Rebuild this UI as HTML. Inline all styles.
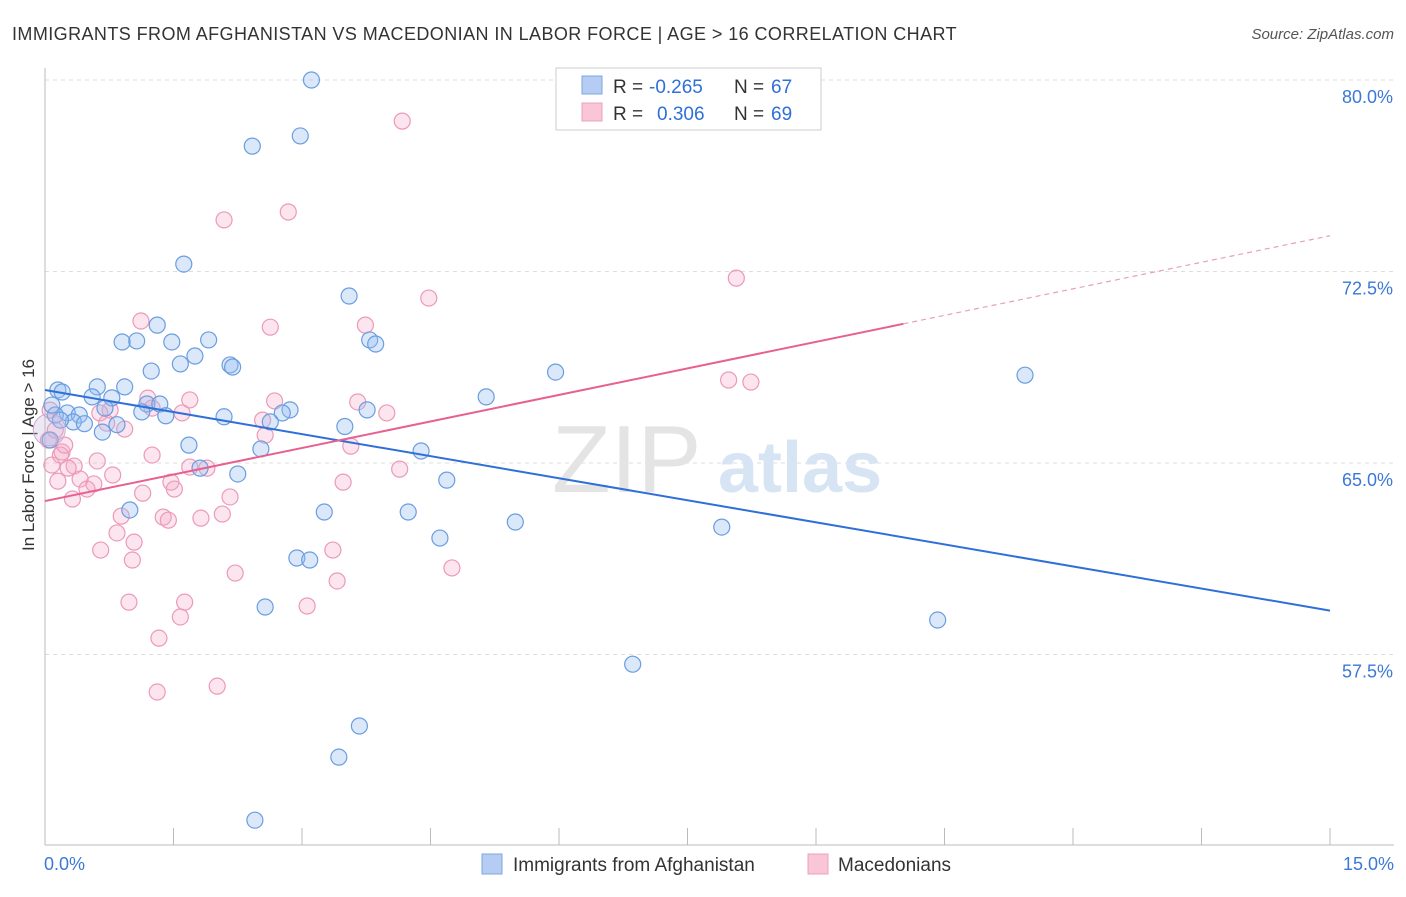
<!DOCTYPE html>
<html><head><meta charset="utf-8"><style>
body{margin:0;background:#fff;font-family:"Liberation Sans",sans-serif;}
svg text{font-family:"Liberation Sans",sans-serif;}
</style></head><body>
<svg id="chart" width="1406" height="892" viewBox="0 0 1406 892" xmlns="http://www.w3.org/2000/svg">
<text x="12" y="40" font-size="18" letter-spacing="0.42" fill="#333">IMMIGRANTS FROM AFGHANISTAN VS MACEDONIAN IN LABOR FORCE | AGE &gt; 16 CORRELATION CHART</text>
<text x="1394" y="39" font-size="15" fill="#555" text-anchor="end" font-style="italic">Source: ZipAtlas.com</text>
<g id="grid"></g>
<g>
<text x="552" y="492" font-size="96" fill="#e4e4e4" font-family="Liberation Serif,serif">ZIP</text>
<text x="718" y="492" font-size="72" fill="#d6e4f4" font-weight="bold">atlas</text>
</g>
<text transform="translate(34,455) rotate(-90)" font-size="17" fill="#333" text-anchor="middle">In Labor Force | Age &gt; 16</text>
<g id="points"></g>
<g id="lines"></g>
<g>
<rect x="556" y="68" width="265" height="62" fill="#fff" stroke="#ccc"/>
<rect x="582" y="76" width="20" height="18" fill="#b5cdf2" stroke="#7aa7e4"/>
<rect x="582" y="103" width="20" height="18" fill="#f9c6d6" stroke="#eba0bb"/>
<text x="613" y="93" font-size="19" fill="#333">R =</text>
<text x="649" y="93" font-size="19" fill="#2f6fd8">-0.265</text>
<text x="734" y="93" font-size="19" fill="#333">N =</text>
<text x="771" y="93" font-size="19" fill="#2f6fd8">67</text>
<text x="613" y="120" font-size="19" fill="#333">R =</text>
<text x="657" y="120" font-size="19" fill="#2f6fd8">0.306</text>
<text x="734" y="120" font-size="19" fill="#333">N =</text>
<text x="771" y="120" font-size="19" fill="#2f6fd8">69</text>
</g>
<g>
<rect x="482" y="854" width="20" height="20" fill="#b5cdf2" stroke="#7aa7e4"/>
<text x="513" y="871" font-size="19" fill="#333">Immigrants from Afghanistan</text>
<rect x="808" y="854" width="20" height="20" fill="#f9c6d6" stroke="#eba0bb"/>
<text x="838" y="871" font-size="19" fill="#333">Macedonians</text>
</g>
</svg>
<script>
const yTicks=[80,72.5,65,57.5];
const yTickLabels=["80.0%","72.5%","65.0%","57.5%"];
const xTickValues=[0,1.5,3,4.5,6,7.5,9,10.5,12,13.5,15];
const xEndLabels=["0.0%","15.0%"];
const blueX=[3.11,2.42,2.98,1.62,3.55,1.31,1.07,0.90,1.48,1.91,3.79,3.86,1.75,1.58,2.16,2.19,1.24,5.96,11.44,0.93,0.61,0.15,0.20,0.55,0.78,5.15,1.19,1.34,2.86,2.77,3.76,0.26,1.13,0.40,0.70,1.41,2.09,2.63,0.33,0.46,0.84,3.50,0.67,1.68,2.52,4.39,1.81,2.25,4.69,0.99,3.26,4.24,5.49,7.90,4.61,2.94,3.09,2.57,10.42,6.86,3.67,3.43,2.45,0.12,0.06,0.08,0.18];
const blueY=[80.0,77.41,77.81,72.79,71.54,70.40,69.78,69.74,69.74,69.82,69.82,69.66,69.19,68.88,68.84,68.76,68.60,68.56,68.44,67.98,67.98,67.86,67.78,67.59,67.55,67.59,67.31,67.31,67.08,66.96,67.08,66.96,67.00,66.88,67.15,66.85,66.81,66.61,66.61,66.54,66.50,66.43,66.21,65.70,65.55,65.47,64.80,64.57,64.33,63.16,63.08,63.08,62.69,62.49,62.06,61.28,61.20,59.36,58.85,57.12,54.70,53.48,51.01,66.88,65.90,67.27,66.68];
const pinkX=[4.17,2.84,2.09,8.07,4.48,1.12,2.63,3.74,7.98,8.24,1.69,1.20,1.25,1.60,2.68,3.65,0.76,0.64,3.99,2.54,0.72,0.93,2.57,3.57,0.20,0.61,1.25,0.34,0.27,1.69,1.89,4.14,0.79,0.41,0.15,0.57,0.49,1.47,1.51,3.48,1.14,2.16,0.32,0.89,2.07,1.38,1.44,1.82,0.84,1.04,0.65,1.02,3.36,4.75,2.22,3.41,0.98,1.63,3.06,1.58,1.33,1.31,2.01,0.06,0.04,0.08,0.12,0.18,0.23];
const pinkY=[78.39,74.83,74.52,72.24,71.46,70.56,70.32,70.40,68.25,68.17,67.47,67.54,67.15,66.96,67.43,67.39,67.07,66.96,66.96,66.68,66.56,66.33,66.09,65.66,65.43,65.08,65.31,64.88,64.80,64.84,64.80,64.76,64.53,64.37,64.29,64.18,63.98,64.25,63.98,64.25,63.82,63.67,63.59,62.92,63.00,62.88,62.76,62.84,62.26,61.90,61.59,61.20,61.59,60.89,60.69,60.38,59.55,59.55,59.40,58.97,58.14,56.03,56.26,67.07,65.90,64.92,66.29,65.31,65.70];
const blueTrend=[67.86,59.22];
const pinkTrend=[63.51,73.9];
const pinkSolidEnd=10.02;
const NS="http://www.w3.org/2000/svg";
const X=v=>45+v/15*1285, Y=v=>80+(80-v)/7.5*191.5;
function mk(t,a,p){const e=document.createElementNS(NS,t);for(const k in a)e.setAttribute(k,a[k]);p.appendChild(e);return e;}
const grid=document.getElementById('grid');
yTicks.forEach((t,i)=>{
 const l=mk('line',{x1:45,x2:1394,y1:Y(t),y2:Y(t),stroke:'#ddd','stroke-dasharray':'4,4'},grid);
 
 
 const tx=mk('text',{x:1393,y:Y(t)+23,'font-size':18,fill:'#3b78d8','text-anchor':'end'},grid);
 tx.textContent=yTickLabels[i];
 
 
});
const ax=mk('line',{x1:45,x2:45,y1:68,y2:845,stroke:'#bbb'},grid);


const bx=mk('line',{x1:45,x2:1394,y1:845,y2:845,stroke:'#bbb'},grid);


xTickValues.forEach(v=>{
 const t=mk('line',{x1:X(v),x2:X(v),y1:828,y2:845,stroke:'#bbb'},grid);
 
 
});
[[0,'start',44],[15,'end',1394]].forEach((d,i)=>{
 const t=mk('text',{x:d[2],y:870,'font-size':18,fill:'#3b78d8','text-anchor':d[1]},grid);
 t.textContent=xEndLabels[i];
 
 
});
const pts=document.getElementById('points');
function draw(xs,ys,fill,stroke,name){
 xs.forEach((x,i)=>{
  const c=mk('circle',{cx:X(x),cy:Y(ys[i]),r:8,fill:fill,stroke:stroke,'stroke-width':1.2},pts);
  
  
 });
}
draw(pinkX,pinkY,'rgba(244,170,198,0.3)','#eb9ab8','macedonian-point');
draw(blueX,blueY,'rgba(150,190,240,0.35)','#6a9de0','afghanistan-point');
const big=mk('circle',{cx:X(0.05),cy:Y(66.3),r:16,fill:'rgba(200,180,220,0.3)',stroke:'#c9a9d0'},pts);


const lg=document.getElementById('lines');
const bl=mk('line',{x1:X(0),y1:Y(blueTrend[0]),x2:X(15),y2:Y(blueTrend[1]),stroke:'#2f6fd8','stroke-width':2},lg);


const pv=v=>pinkTrend[0]+(pinkTrend[1]-pinkTrend[0])*v/15;
const pl=mk('line',{x1:X(0),y1:Y(pv(0)),x2:X(pinkSolidEnd),y2:Y(pv(pinkSolidEnd)),stroke:'#e8608f','stroke-width':2},lg);


const pd=mk('line',{x1:X(pinkSolidEnd),y1:Y(pv(pinkSolidEnd)),x2:X(15),y2:Y(pv(15)),stroke:'#e8a0b8','stroke-width':1.2,'stroke-dasharray':'5,4'},lg);


</script>
</body></html>
